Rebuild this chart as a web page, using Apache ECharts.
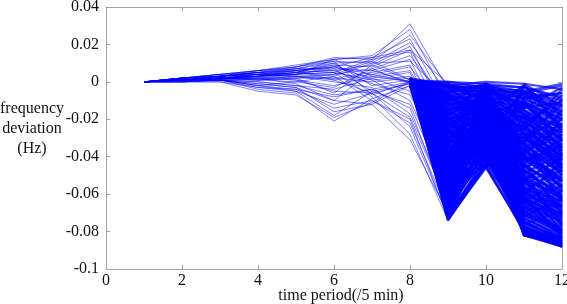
<!DOCTYPE html>
<html>
<head>
<meta charset="utf-8">
<script src="https://cdn.jsdelivr.net/npm/echarts@6/dist/echarts.min.js"></script>
<style>
html, body { margin: 0; padding: 0; background: #fff; }
#chart { width: 567px; height: 304px; }
</style>
</head>
<body>
<div id="chart"></div>
<script>
// time periods (x axis)
var periods = [1, 2, 3, 4, 5, 6, 7, 8, 9, 10, 11, 12];
// periods covered by the branches that leave the common point at period 8
var branchPeriods = [8, 9, 10, 11, 12];

// full scenario paths, frequency deviation (Hz) for periods 1..12
var fullPaths = [
    [0, 0.002, 0.004, 0.006, 0.008, 0.013, 0.012, 0.031, -0.004, -0.002, -0.010, -0.018],
    [0, 0.002, 0.004, 0.006, 0.009, 0.012, 0.014, 0.028, -0.010, -0.006, -0.022, -0.035],
    [0, 0.001, 0.003, 0.005, 0.007, 0.010, 0.011, 0.025, -0.002, -0.012, -0.030, -0.041],
    [0, 0.001, 0.003, 0.004, 0.006, 0.008, 0.013, 0.023, -0.015, -0.004, -0.044, -0.060],
    [0, 0.002, 0.003, 0.005, 0.008, 0.011, 0.010, 0.021, -0.006, -0.020, -0.015, -0.028],
    [0, 0.001, 0.002, 0.003, 0.005, 0.006, 0.009, 0.019, -0.020, -0.009, -0.052, -0.047],
    [0, 0.002, 0.004, 0.005, 0.006, 0.009, 0.008, 0.017, -0.001, -0.003, -0.006, -0.012],
    [0, 0.001, 0.002, 0.004, 0.004, 0.005, 0.012, 0.016, -0.025, -0.016, -0.038, -0.055],
    [0, 0.001, 0.002, 0.002, 0.003, 0.004, 0.007, 0.014, -0.012, -0.026, -0.061, -0.072],
    [0, 0.002, 0.003, 0.004, 0.007, 0.007, 0.006, 0.012, -0.030, -0.021, -0.027, -0.033],
    [0, 0.001, 0.001, 0.003, 0.005, 0.003, 0.010, 0.011, -0.008, -0.013, -0.070, -0.080],
    [0, 0.001, 0.002, 0.001, 0.002, 0.002, 0.005, 0.009, -0.035, -0.030, -0.048, -0.066],
    [0, 0.002, 0.003, 0.005, 0.006, 0.001, 0.004, 0.008, -0.018, -0.008, -0.019, -0.024],
    [0, 0.001, 0.002, 0.003, 0.004, 0.012, 0.013, 0.017, -0.014, -0.035, -0.058, -0.050],
    [0, 0.000, 0.001, 0.002, 0.001, -0.002, 0.003, 0.006, -0.028, -0.011, -0.035, -0.062],
    [0, 0.001, 0.001, 0.000, -0.002, -0.004, 0.002, 0.005, -0.040, -0.025, -0.074, -0.085],
    [0, 0.001, 0.002, 0.002, 0.004, 0.005, 0.001, 0.003, -0.033, -0.019, -0.041, -0.038],
    [0, 0.002, 0.003, 0.004, 0.003, 0.002, 0.000, 0.002, -0.045, -0.038, -0.066, -0.079],
    [0, 0.001, 0.002, 0.003, 0.006, 0.008, 0.004, 0.000, -0.022, -0.006, -0.033, -0.044],
    [0, 0.001, 0.001, -0.002, -0.004, -0.008, -0.004, 0.000, -0.038, -0.020, -0.056, -0.070],
    [0, 0.000, 0.001, -0.003, -0.005, -0.012, -0.006, -0.001, -0.050, -0.029, -0.044, -0.053],
    [0, 0.001, 0.002, 0.004, 0.005, 0.010, -0.002, 0.001, -0.016, -0.014, -0.049, -0.058],
    [0, 0.002, 0.003, 0.006, 0.008, 0.012, 0.003, 0.000, -0.009, -0.002, -0.025, -0.039],
    [0, 0.001, 0.001, -0.004, -0.006, -0.021, -0.009, -0.002, -0.062, -0.040, -0.078, -0.086],
    [0, 0.000, 0.000, -0.005, -0.007, -0.019, -0.011, 0.000, -0.071, -0.044, -0.081, -0.088],
    [0, 0.001, 0.002, 0.001, 0.002, -0.006, 0.009, 0.001, -0.027, -0.031, -0.063, -0.075],
    [0, 0.001, 0.003, 0.005, 0.004, 0.007, -0.005, -0.001, -0.043, -0.036, -0.071, -0.083],
    [0, 0.002, 0.002, 0.002, -0.001, -0.010, 0.006, 0.000, -0.034, -0.017, -0.029, -0.047],
    [0, 0.001, 0.001, -0.001, -0.003, -0.016, -0.012, -0.002, -0.058, -0.034, -0.068, -0.077],
    [0, 0.001, 0.002, 0.003, 0.002, 0.004, 0.011, 0.001, -0.005, -0.010, -0.040, -0.051],
    [0, 0.000, 0.001, -0.002, 0.000, -0.003, 0.007, -0.001, -0.048, -0.027, -0.052, -0.064],
    [0, 0.002, 0.004, 0.006, 0.007, 0.011, -0.007, 0.000, -0.066, -0.042, -0.075, -0.081],
    [0, 0.001, 0.002, 0.003, 0.005, 0.009, 0.001, -0.010, -0.054, -0.033, -0.060, -0.069],
    [0, 0.001, 0.001, 0.000, -0.002, -0.007, -0.004, -0.014, -0.068, -0.045, -0.077, -0.084],
    [0, 0.000, 0.000, -0.003, -0.004, -0.014, -0.010, -0.020, -0.073, -0.046, -0.080, -0.087],
    [0, 0.001, 0.002, 0.002, 0.001, -0.005, -0.006, -0.024, -0.072, -0.041, -0.069, -0.082],
    [0, 0.002, 0.003, 0.004, 0.006, 0.005, -0.008, -0.028, -0.074, -0.045, -0.074, -0.086],
    [0, 0.001, 0.001, -0.001, -0.003, -0.010, -0.012, -0.031, -0.070, -0.043, -0.079, -0.083],
    [0, 0.001, 0.002, 0.004, 0.003, 0.000, -0.003, -0.017, -0.063, -0.039, -0.058, -0.073],
    [0, 0.002, 0.002, 0.001, 0.000, 0.003, -0.010, -0.022, -0.069, -0.037, -0.072, -0.078],
    [0, 0.001, 0.003, 0.005, 0.007, 0.006, -0.001, -0.007, -0.046, -0.024, -0.036, -0.057],
    [0, 0.000, 0.001, -0.002, -0.005, -0.018, -0.005, -0.012, -0.060, -0.035, -0.065, -0.080],
    [0, 0.001, 0.002, 0.003, 0.004, 0.008, 0.002, -0.005, -0.051, -0.028, -0.045, -0.061],
    [0, 0.001, 0.001, 0.001, 0.003, 0.001, -0.006, -0.019, -0.065, -0.046, -0.076, -0.088]
];

// branches from the common point near 0 Hz at period 8, values for periods 8..12
var branchTails = [
    [0, 0.000, -0.001, -0.003, -0.008], [0.001, -0.002, 0.000, -0.001, -0.004], [-0.001, -0.004, -0.003, -0.012, -0.020],
    [0, -0.006, -0.002, -0.025, -0.033], [0.001, -0.001, -0.006, -0.008, -0.015], [0, -0.003, -0.009, -0.040, -0.052],
    [-0.001, -0.005, -0.001, -0.018, -0.027], [0, -0.007, -0.012, -0.055, -0.066], [0.002, -0.002, -0.004, -0.006, -0.002],
    [0, -0.004, -0.015, -0.030, -0.046], [-0.001, -0.006, -0.007, -0.070, -0.080], [0.001, -0.003, -0.002, -0.048, -0.061],
    [0, -0.001, -0.011, -0.020, -0.038], [0, -0.005, -0.005, -0.062, -0.074], [-0.002, -0.007, -0.019, -0.035, -0.057],
    [0.001, 0.000, -0.003, -0.014, -0.011], [0, -0.002, -0.008, -0.078, -0.086], [-0.001, -0.006, -0.014, -0.044, -0.070],

    [0, -0.008, -0.002, -0.005, -0.010], [0.001, -0.010, -0.006, -0.022, -0.030], [-0.001, -0.012, -0.009, -0.036, -0.048],
    [0, -0.014, -0.004, -0.058, -0.072], [0, -0.009, -0.013, -0.016, -0.025], [0.001, -0.011, -0.001, -0.009, -0.006],
    [-0.001, -0.013, -0.017, -0.066, -0.082], [0, -0.015, -0.008, -0.028, -0.044], [0, -0.008, -0.020, -0.050, -0.063],
    [0.002, -0.010, -0.003, -0.074, -0.085], [0, -0.012, -0.011, -0.042, -0.035], [-0.001, -0.014, -0.015, -0.002, -0.018],
    [0, -0.009, -0.007, -0.031, -0.058], [0.001, -0.011, -0.022, -0.080, -0.087], [0, -0.013, -0.005, -0.012, -0.029],
    [-0.002, -0.015, -0.012, -0.060, -0.067], [0, -0.010, -0.018, -0.024, -0.041], [0.001, -0.008, -0.010, -0.052, -0.077],

    [0, -0.016, -0.003, -0.007, -0.014], [0.001, -0.018, -0.008, -0.027, -0.039], [-0.001, -0.020, -0.012, -0.045, -0.055],
    [0, -0.022, -0.005, -0.064, -0.076], [0, -0.017, -0.016, -0.019, -0.032], [0.001, -0.019, -0.002, -0.003, -0.009],
    [-0.001, -0.021, -0.020, -0.072, -0.084], [0, -0.023, -0.010, -0.034, -0.050], [0, -0.016, -0.024, -0.056, -0.068],
    [0.002, -0.018, -0.006, -0.081, -0.088], [0, -0.020, -0.014, -0.038, -0.028], [-0.001, -0.022, -0.018, -0.010, -0.023],
    [0, -0.017, -0.009, -0.047, -0.062], [0.001, -0.019, -0.026, -0.068, -0.079], [0, -0.021, -0.004, -0.015, -0.036],
    [-0.002, -0.023, -0.013, -0.053, -0.060], [0, -0.018, -0.021, -0.030, -0.045], [0.001, -0.016, -0.011, -0.076, -0.083],

    [0, -0.024, -0.004, -0.009, -0.017], [0.001, -0.026, -0.010, -0.032, -0.043], [-0.001, -0.028, -0.015, -0.049, -0.059],
    [0, -0.030, -0.007, -0.066, -0.078], [0, -0.025, -0.019, -0.021, -0.035], [0.001, -0.027, -0.003, -0.005, -0.012],
    [-0.001, -0.029, -0.023, -0.075, -0.086], [0, -0.031, -0.012, -0.037, -0.053], [0, -0.024, -0.027, -0.059, -0.071],
    [0.002, -0.026, -0.008, -0.079, -0.087], [0, -0.028, -0.017, -0.041, -0.031], [-0.001, -0.030, -0.021, -0.013, -0.026],
    [0, -0.025, -0.011, -0.051, -0.065], [0.001, -0.027, -0.029, -0.071, -0.081], [0, -0.029, -0.006, -0.018, -0.040],
    [-0.002, -0.031, -0.016, -0.057, -0.064], [0, -0.026, -0.025, -0.033, -0.049], [0.001, -0.024, -0.014, -0.082, -0.085],

    [0, -0.032, -0.005, -0.011, -0.019], [0.001, -0.034, -0.012, -0.034, -0.046], [-0.001, -0.036, -0.018, -0.052, -0.062],
    [0, -0.038, -0.009, -0.069, -0.080], [0, -0.033, -0.022, -0.023, -0.037], [0.001, -0.035, -0.004, -0.006, -0.013],
    [-0.001, -0.037, -0.026, -0.077, -0.087], [0, -0.039, -0.014, -0.040, -0.056], [0, -0.032, -0.030, -0.061, -0.073],
    [0.002, -0.034, -0.010, -0.080, -0.088], [0, -0.036, -0.020, -0.043, -0.033], [-0.001, -0.038, -0.024, -0.015, -0.029],
    [0, -0.033, -0.013, -0.054, -0.067], [0.001, -0.035, -0.032, -0.073, -0.082], [0, -0.037, -0.008, -0.020, -0.042],
    [-0.002, -0.039, -0.019, -0.059, -0.066], [0, -0.034, -0.028, -0.036, -0.052], [0.001, -0.032, -0.016, -0.081, -0.084],

    [0, -0.040, -0.006, -0.013, -0.021], [0.001, -0.042, -0.014, -0.037, -0.048], [-0.001, -0.044, -0.021, -0.054, -0.064],
    [0, -0.046, -0.011, -0.071, -0.081], [0, -0.041, -0.025, -0.026, -0.040], [0.001, -0.043, -0.005, -0.007, -0.016],
    [-0.001, -0.045, -0.029, -0.078, -0.088], [0, -0.047, -0.017, -0.044, -0.058], [0, -0.040, -0.033, -0.063, -0.075],
    [0.002, -0.042, -0.012, -0.082, -0.086], [0, -0.044, -0.023, -0.046, -0.036], [-0.001, -0.046, -0.027, -0.017, -0.031],
    [0, -0.041, -0.015, -0.057, -0.069], [0.001, -0.043, -0.035, -0.075, -0.084], [0, -0.045, -0.009, -0.022, -0.044],
    [-0.002, -0.047, -0.022, -0.061, -0.068], [0, -0.042, -0.031, -0.039, -0.054], [0.001, -0.040, -0.019, -0.080, -0.087],

    [0, -0.048, -0.008, -0.015, -0.024], [0.001, -0.050, -0.016, -0.039, -0.051], [-0.001, -0.052, -0.024, -0.057, -0.067],
    [0, -0.054, -0.013, -0.073, -0.083], [0, -0.049, -0.028, -0.028, -0.042], [0.001, -0.051, -0.006, -0.009, -0.018],
    [-0.001, -0.053, -0.032, -0.079, -0.088], [0, -0.055, -0.020, -0.047, -0.061], [0, -0.048, -0.036, -0.065, -0.077],
    [0.002, -0.050, -0.014, -0.081, -0.085], [0, -0.052, -0.026, -0.049, -0.038], [-0.001, -0.054, -0.030, -0.019, -0.034],
    [0, -0.049, -0.018, -0.059, -0.071], [0.001, -0.051, -0.038, -0.077, -0.086], [0, -0.053, -0.011, -0.025, -0.047],
    [-0.002, -0.055, -0.025, -0.063, -0.070], [0, -0.050, -0.034, -0.041, -0.056], [0.001, -0.048, -0.022, -0.082, -0.088],

    [0, -0.056, -0.010, -0.017, -0.027], [0.001, -0.058, -0.018, -0.042, -0.053], [-0.001, -0.060, -0.027, -0.060, -0.069],
    [0, -0.062, -0.015, -0.075, -0.084], [0, -0.057, -0.031, -0.030, -0.045], [0.001, -0.059, -0.008, -0.011, -0.020],
    [-0.001, -0.061, -0.035, -0.080, -0.087], [0, -0.063, -0.023, -0.050, -0.063], [0, -0.056, -0.039, -0.067, -0.079],
    [0.002, -0.058, -0.017, -0.082, -0.088], [0, -0.060, -0.029, -0.052, -0.041], [-0.001, -0.062, -0.033, -0.021, -0.037],
    [0, -0.057, -0.021, -0.062, -0.073], [0.001, -0.059, -0.041, -0.078, -0.085], [0, -0.061, -0.013, -0.028, -0.050],
    [-0.002, -0.063, -0.028, -0.065, -0.072], [0, -0.058, -0.037, -0.044, -0.059], [0.001, -0.056, -0.025, -0.081, -0.086],

    [0, -0.064, -0.012, -0.019, -0.030], [0.001, -0.066, -0.020, -0.045, -0.056], [-0.001, -0.068, -0.030, -0.062, -0.071],
    [0, -0.070, -0.018, -0.077, -0.085], [0, -0.065, -0.034, -0.033, -0.048], [0.001, -0.067, -0.010, -0.013, -0.023],
    [-0.001, -0.069, -0.038, -0.081, -0.088], [0, -0.071, -0.026, -0.053, -0.066], [0, -0.064, -0.042, -0.069, -0.080],
    [0.002, -0.066, -0.021, -0.082, -0.087], [0, -0.068, -0.032, -0.055, -0.044], [-0.001, -0.070, -0.036, -0.024, -0.040],
    [0, -0.072, -0.044, -0.064, -0.075], [0.001, -0.073, -0.046, -0.079, -0.086], [0, -0.074, -0.045, -0.080, -0.088],
    [-0.002, -0.072, -0.040, -0.067, -0.074], [0, -0.074, -0.043, -0.047, -0.062], [0.001, -0.073, -0.029, -0.082, -0.084]
];

// branches that recover or swing between periods 10 and 12 (periods 8..12)
var crossingTails = [
    [0, -0.003, -0.018, -0.002, -0.024], [0, -0.011, -0.026, -0.006, -0.016], [0, -0.019, -0.034, -0.010, -0.032],
    [0, -0.027, -0.040, -0.014, -0.003], [0, -0.035, -0.045, -0.018, -0.027], [0, -0.043, -0.038, -0.022, -0.010],
    [0, -0.051, -0.031, -0.004, -0.039], [0, -0.059, -0.044, -0.008, -0.006], [0, -0.067, -0.036, -0.012, -0.031],
    [0, -0.072, -0.041, -0.027, -0.048], [0, -0.006, -0.024, -0.031, -0.012], [0, -0.014, -0.032, -0.036, -0.022],
    [0, -0.022, -0.039, -0.040, -0.015], [0, -0.030, -0.046, -0.029, -0.020], [0, -0.038, -0.033, -0.025, -0.007],
    [0, -0.046, -0.027, -0.032, -0.017], [0, -0.054, -0.040, -0.038, -0.024], [0, -0.062, -0.035, -0.042, -0.034],
    [0, -0.070, -0.044, -0.048, -0.028], [0, -0.009, -0.016, -0.046, -0.030], [0, -0.017, -0.028, -0.053, -0.040],
    [0, -0.026, -0.036, -0.058, -0.047], [0, -0.034, -0.042, -0.064, -0.052], [0, -0.042, -0.045, -0.070, -0.058],
    [0, -0.050, -0.024, -0.050, -0.076], [0, -0.058, -0.019, -0.056, -0.080], [0, -0.066, -0.015, -0.061, -0.083],
    [0, -0.002, -0.006, -0.034, -0.064], [0, -0.012, -0.004, -0.043, -0.070], [0, -0.028, -0.002, -0.039, -0.053],
    [0, -0.040, -0.001, -0.023, -0.046], [0, -0.055, -0.003, -0.017, -0.035], [0, -0.068, -0.007, -0.029, -0.042],
    [0, -0.031, -0.043, -0.005, -0.001], [0, -0.047, -0.046, -0.002, -0.026], [0, -0.063, -0.039, -0.001, -0.013],
    [0, -0.015, -0.010, -0.026, -0.004], [0, -0.023, -0.013, -0.033, -0.009], [0, -0.039, -0.016, -0.045, -0.019],
    [0, -0.044, -0.011, -0.060, -0.043], [0, -0.052, -0.009, -0.068, -0.055], [0, -0.060, -0.012, -0.072, -0.062],
    [0, -0.007, -0.029, -0.063, -0.081], [0, -0.021, -0.037, -0.071, -0.078], [0, -0.037, -0.041, -0.076, -0.069]
];

var xTicks = {min: 0, max: 12, interval: 2};
var yTicks = {min: -0.1, max: 0.04, interval: 0.02};

var frameColor = '#a3a3a3';
var textFont = 'Liberation Serif';

function makeSeries(rows, xs, width, opacity) {
    var list = [];
    for (var i = 0; i < rows.length; i++) {
        var row = rows[i];
        var points = [];
        for (var j = 0; j < xs.length; j++) {
            points.push([xs[j], row[j]]);
        }
        list.push({
            type: 'line',
            data: points,
            symbol: 'none',
            silent: true,
            lineStyle: {color: '#0000ff', width: width, opacity: opacity}
        });
    }
    return list;
}

function axisX(pos, labels) {
    return {
        type: 'value',
        position: pos,
        min: xTicks.min, max: xTicks.max, interval: xTicks.interval,
        axisLine: {show: true, onZero: false, lineStyle: {color: frameColor}},
        axisTick: {show: true, inside: true, length: 4, lineStyle: {color: frameColor}},
        axisLabel: {show: labels, margin: 4, color: '#111', fontFamily: textFont, fontSize: 16},
        splitLine: {show: false}
    };
}

function axisY(pos, labels) {
    return {
        type: 'value',
        position: pos,
        min: yTicks.min, max: yTicks.max, interval: yTicks.interval,
        axisLine: {show: true, onZero: false, lineStyle: {color: frameColor}},
        axisTick: {show: true, inside: true, length: 4, lineStyle: {color: frameColor}},
        axisLabel: {
            show: labels, margin: 7, color: '#111', fontFamily: textFont, fontSize: 16,
            formatter: function (v) { return String(Math.round(v * 100) / 100); }
        },
        splitLine: {show: false}
    };
}

var option = {
    animation: false,
    backgroundColor: '#fff',
    grid: {left: 106, right: 5, top: 7, bottom: 35, outerBoundsMode: 'none'},
    xAxis: [axisX('bottom', true), axisX('top', false)],
    yAxis: [axisY('left', true), axisY('right', false)],
    graphic: [
        {
            type: 'text', x: 32, y: 129,
            style: {
                text: 'frequency\ndeviation\n(Hz)', textAlign: 'center', textVerticalAlign: 'middle',
                lineHeight: 20, fontFamily: textFont, fontSize: 16, fill: '#111'
            }
        },
        {
            type: 'text', x: 341, y: 296,
            style: {
                text: 'time period(/5 min)', textAlign: 'center', textVerticalAlign: 'middle',
                fontFamily: textFont, fontSize: 16, fill: '#111'
            }
        }
    ],
    series: makeSeries(fullPaths, periods, 1, 0.5)
        .concat(makeSeries(branchTails, branchPeriods, 2.2, 0.7))
        .concat(makeSeries(crossingTails, branchPeriods, 2.2, 0.7))
};

var myChart = echarts.init(document.getElementById('chart'), null, {renderer: 'canvas'});
myChart.setOption(option);
</script>
</body>
</html>
